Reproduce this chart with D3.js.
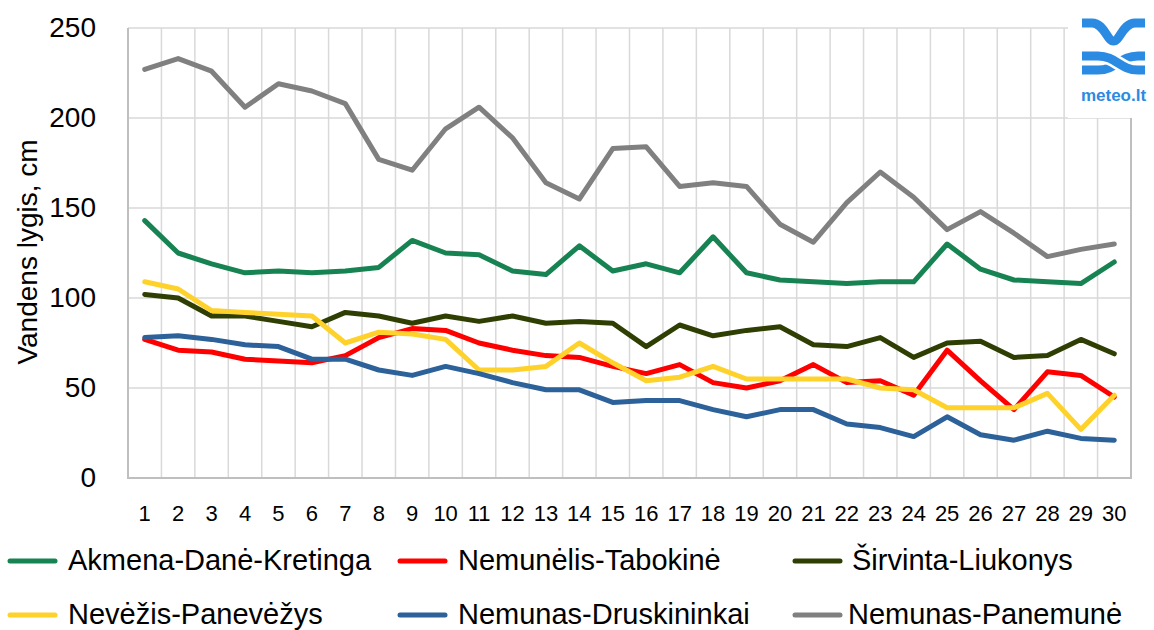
<!DOCTYPE html>
<html>
<head>
<meta charset="utf-8">
<script src="https://cdn.jsdelivr.net/npm/d3@7"></script>
<style>
  html, body { margin: 0; padding: 0; background: #fff; }
  svg { display: block; }
  text { font-family: "Liberation Sans", Arial, sans-serif; }
</style>
</head>
<body>
<svg id="chart" width="1154" height="630"></svg>
<script>
// ---- Data ----
const days = d3.range(1, 31).map(String);
const yTicks = [0, 50, 100, 150, 200, 250];
const seriesNames = ["Akmena-Danė-Kretinga", "Nemunėlis-Tabokinė", "Širvinta-Liukonys",
                     "Nevėžis-Panevėžys", "Nemunas-Druskininkai", "Nemunas-Panemunė"];
const akmena = [143,125,119,114,115,114,115,117,132,125,124,115,113,129,115,119,114,134,114,110,109,108,109,109,130,116,110,109,108,120];
const nemunelis = [77,71,70,66,65,64,68,78,83,82,75,71,68,67,62,58,63,53,50,54,63,53,54,46,71,54,38,59,57,45];
const sirvinta = [102,100,90,90,87,84,92,90,86,90,87,90,86,87,86,73,85,79,82,84,74,73,78,67,75,76,67,68,77,69];
const nevezis = [109,105,93,92,91,90,75,81,80,77,60,60,62,75,64,54,56,62,55,55,55,55,50,49,39,39,39,47,27,46];
const druskininkai = [78,79,77,74,73,66,66,60,57,62,58,53,49,49,42,43,43,38,34,38,38,30,28,23,34,24,21,26,22,21];
const panemune = [227,233,226,206,219,215,208,177,171,194,206,189,164,155,183,184,162,164,162,141,131,153,170,156,138,148,136,123,127,130];
const seriesValues = [akmena, nemunelis, sirvinta, nevezis, druskininkai, panemune];
const seriesColors = ["#188352", "#ff0000", "#2f3f03", "#ffd22b", "#2c6199", "#808080"];

// ---- Layout ----
const svg = d3.select("#chart");
const plot = { left: 128, right: 1131, top: 28, bottom: 478 };

const x = d3.scaleBand().domain(days).range([plot.left, plot.right]);
const y = d3.scaleLinear().domain([0, 250]).range([plot.bottom, plot.top]);
const cx = d => x(d) + x.bandwidth() / 2;

// vertical gridlines (band boundaries)
svg.append("g").selectAll("line")
  .data(days.slice(1))
  .join("line")
  .attr("x1", d => x(d)).attr("x2", d => x(d))
  .attr("y1", plot.top).attr("y2", plot.bottom)
  .attr("stroke", "#d9d9d9").attr("stroke-width", 1.5);

// horizontal gridlines
svg.append("g").selectAll("line")
  .data(yTicks.filter(t => t > 0))
  .join("line")
  .attr("x1", plot.left).attr("x2", plot.right)
  .attr("y1", d => y(d)).attr("y2", d => y(d))
  .attr("stroke", "#d9d9d9").attr("stroke-width", 1.5);

// plot border (left, bottom, right)
svg.append("path")
  .attr("d", `M${plot.left},${plot.top}V${plot.bottom}H${plot.right}V${plot.top}`)
  .attr("fill", "none").attr("stroke", "#bfbfbf").attr("stroke-width", 2);

// Y axis labels
const yAxis = d3.axisLeft(y).tickValues(yTicks).tickSize(0).tickPadding(32);
svg.append("g")
  .attr("transform", `translate(${plot.left},0)`)
  .call(yAxis)
  .call(g => g.select(".domain").remove())
  .call(g => g.selectAll("text")
    .style("font-family", '"Liberation Sans", Arial, sans-serif')
    .style("font-size", "28px").style("fill", "#000"));

// X axis labels
const xAxis = d3.axisBottom(x).tickSize(0).tickPadding(27);
svg.append("g")
  .attr("transform", `translate(0,${plot.bottom})`)
  .call(xAxis)
  .call(g => g.select(".domain").remove())
  .call(g => g.selectAll("text")
    .style("font-family", '"Liberation Sans", Arial, sans-serif')
    .style("font-size", "22px").style("fill", "#000"));

// Y title
svg.append("text")
  .attr("transform", "translate(37,252) rotate(-90)")
  .attr("text-anchor", "middle")
  .style("font-size", "28px").style("fill", "#000")
  .text("Vandens lygis, cm");

// Lines
const line = d3.line().x((d, i) => cx(days[i])).y(d => y(d));
svg.append("g").selectAll("path")
  .data(seriesValues)
  .join("path")
  .attr("d", d => line(d))
  .attr("fill", "none")
  .attr("stroke", (d, i) => seriesColors[i])
  .attr("stroke-width", 5)
  .attr("stroke-linejoin", "round")
  .attr("stroke-linecap", "round");

// Legend
const legendPos = [
  { sx: 10, tx: 68, y: 561 }, { sx: 400, tx: 458, y: 561 }, { sx: 795, tx: 852, y: 561 },
  { sx: 10, tx: 68, y: 615 }, { sx: 400, tx: 458, y: 615 }, { sx: 795, tx: 848, y: 615 }
];
const lg = svg.append("g").selectAll("g")
  .data(seriesNames)
  .join("g");
lg.append("line")
  .attr("x1", (d, i) => legendPos[i].sx).attr("x2", (d, i) => legendPos[i].sx + 45)
  .attr("y1", (d, i) => legendPos[i].y).attr("y2", (d, i) => legendPos[i].y)
  .attr("stroke", (d, i) => seriesColors[i]).attr("stroke-width", 5)
  .attr("stroke-linecap", "round");
lg.append("text")
  .attr("x", (d, i) => legendPos[i].tx)
  .attr("y", (d, i) => legendPos[i].y + 9)
  .style("font-size", "29px").style("fill", "#000")
  .text(d => d);

// Logo (meteo.lt)
const logo = svg.append("g");
logo.append("rect").attr("x", 1068).attr("y", 0).attr("width", 86).attr("height", 118).attr("fill", "#fff");
const blue = "#2b8ae2";
logo.append("path")
  .attr("d", "M1082,23 H1092 C1104,23 1107,41 1113.5,41 C1120,41 1123,23 1135,23 H1145")
  .attr("fill", "none").attr("stroke", blue).attr("stroke-width", 9);
logo.append("path")
  .attr("d", "M1082,70 H1098 C1116,70 1120,56 1138,56 H1145")
  .attr("fill", "none").attr("stroke", blue).attr("stroke-width", 9);
logo.append("path")
  .attr("d", "M1082,56 H1098 C1116,56 1120,70 1138,70 H1145")
  .attr("fill", "none").attr("stroke", "#fff").attr("stroke-width", 14);
logo.append("path")
  .attr("d", "M1082,56 H1098 C1116,56 1120,70 1138,70 H1145")
  .attr("fill", "none").attr("stroke", blue).attr("stroke-width", 9);
logo.append("text")
  .attr("x", 1113.5).attr("y", 101).attr("text-anchor", "middle")
  .style("font-size", "17px").style("font-weight", "bold").style("fill", blue)
  .text("meteo.lt");
</script>
</body>
</html>
